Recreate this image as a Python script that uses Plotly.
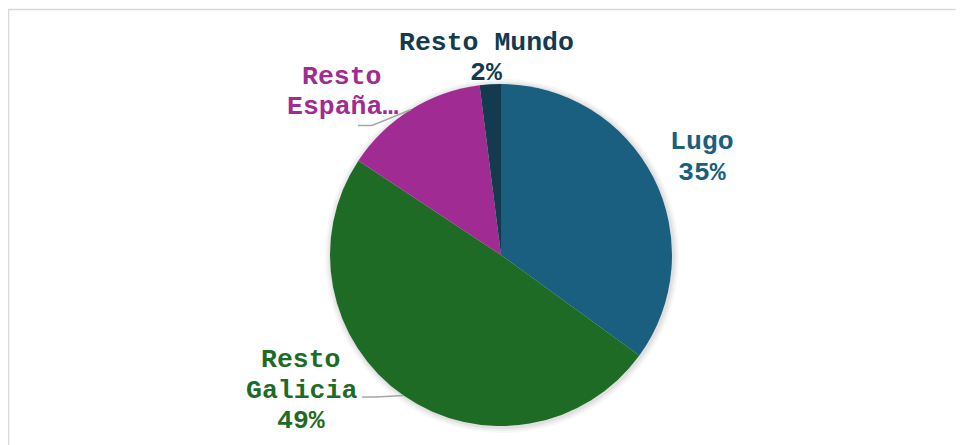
import math
import plotly.graph_objects as go

# ---- data ----
categories = ["Lugo", "Resto Galicia", "Resto España", "Resto Mundo"]
values = [35.0, 49.3, 13.7, 2.0]
colors = ["#1A5E80", "#1E6B26", "#A02B93", "#133A4F"]
label_lines = [
    ["Lugo", "{p}"],
    ["Resto", "Galicia", "{p}"],
    ["Resto", "España…"],
    ["Resto Mundo", "{p}"],
]

# ---- layout constants (pixels, screen coordinates) ----
W, H = 964, 445
OFF = 8  # page body margin
CX, CY, R = 501, 255, 171
FONT = "Liberation Mono, Courier New, monospace"
FS = 26.5
PITCH = 30.5
# label anchor (x centre, first-line y centre) in px
label_pos = [(702, 142), (301, 360), (342, 77), (486, 42.5)]
# leader line start (label side) for the labels that have one
leader_start = {1: (362, 397), 2: (358, 125.5)}


def px(x):
    return (x - OFF) / W


def py(y):
    return 1 - (y - OFF) / H


fig = go.Figure()
fig.add_trace(go.Pie(
    labels=categories,
    values=values,
    sort=False,
    direction="clockwise",
    rotation=0,
    marker=dict(colors=colors, line=dict(width=0)),
    textinfo="none",
    hoverinfo="label+percent",
    showlegend=False,
    domain=dict(x=[px(CX - R), px(CX + R)], y=[py(CY + R), py(CY - R)]),
))

total = sum(values)
annotations = []
shapes = []

# soft shadow behind pie
for k, op in [(6, 0.03), (4, 0.04), (2, 0.05)]:
    shapes.append(dict(
        type="circle", xref="paper", yref="paper", layer="below",
        x0=px(CX - R - k + 1), x1=px(CX + R + k + 1),
        y0=py(CY + R + k + 1), y1=py(CY - R - k + 1),
        line=dict(width=0), fillcolor=f"rgba(0,0,0,{op})",
    ))

cum = 0.0
for i, (cat, v) in enumerate(zip(categories, values)):
    pct = v / total
    mid = (cum + pct / 2) * 2 * math.pi
    cum += pct
    ex = CX + R * math.sin(mid)
    ey = CY - R * math.cos(mid)
    lx, ly = label_pos[i]
    for j, line in enumerate(label_lines[i]):
        annotations.append(dict(
            x=px(lx), y=py(ly + j * PITCH), xref="paper", yref="paper",
            text=line.format(p=f"{round(pct * 100)}%"),
            showarrow=False, xanchor="center", yanchor="middle",
            font=dict(family=FONT, size=FS, color=colors[i], weight="bold"),
        ))
    if i in leader_start:
        sx, sy = leader_start[i]
        kx = sx + 14
        shapes.append(dict(
            type="path", xref="paper", yref="paper",
            path=f"M {px(sx)},{py(sy)} L {px(kx)},{py(sy)} L {px(ex)},{py(ey)}",
            line=dict(color="#A6A6A6", width=1.5),
        ))

# chart-area border (top and left edges visible)
shapes.append(dict(
    type="rect", xref="paper", yref="paper", layer="below",
    x0=px(8.5), x1=px(W + 40), y0=py(H + 40), y1=py(9.5),
    line=dict(color="#D9D9D9", width=1.5), fillcolor="rgba(0,0,0,0)",
))

fig.update_layout(
    width=W, height=H,
    margin=dict(l=0, r=0, t=0, b=0),
    paper_bgcolor="white",
    plot_bgcolor="white",
    annotations=annotations,
    shapes=shapes,
)

fig.write_html("out.html")
